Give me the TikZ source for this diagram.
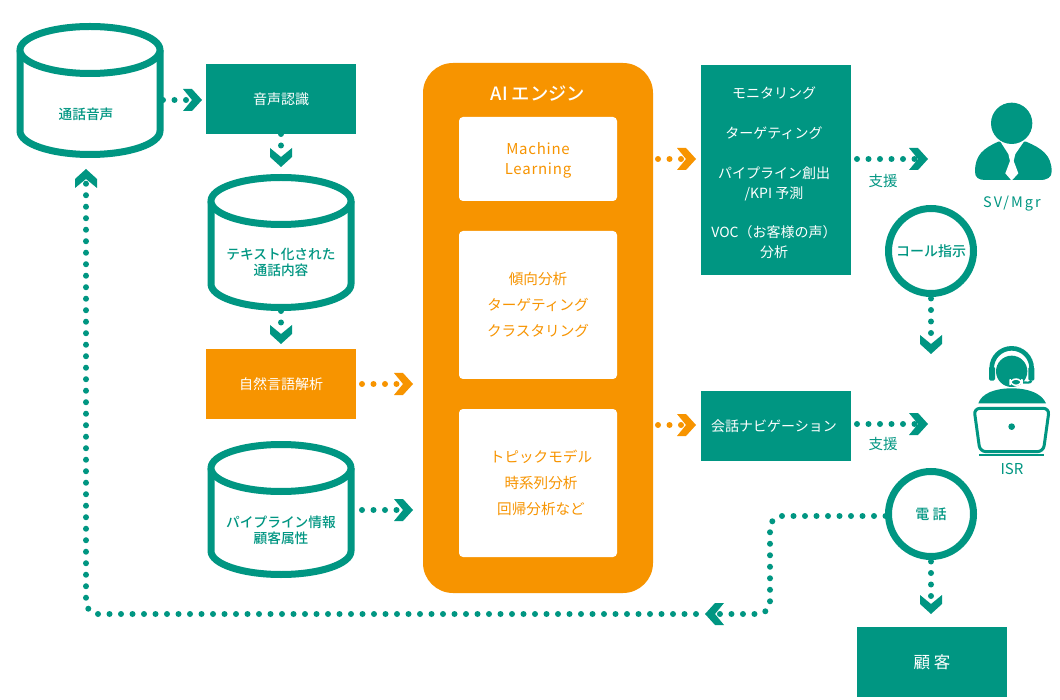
\documentclass[tikz,border=0pt]{standalone}
\usepackage{fontspec}
\setmainfont{Noto Sans CJK JP}
\newfontfamily\medf{Noto Sans CJK JP Medium}
\usetikzlibrary{arrows.meta,calc}
\definecolor{tealc}{HTML}{009682}
\definecolor{orangec}{HTML}{F79400}
\pgfdeclarearrow{
  name=Chev,
  setup code={
    \pgfarrowssettipend{0pt}
    \pgfarrowssetlineend{-12pt}
    \pgfarrowssetvisualbackend{-19pt}
    \pgfarrowssetbackend{-19pt}
  },
  drawing code={
    \pgfpathmoveto{\pgfpoint{0pt}{0pt}}
    \pgfpathlineto{\pgfpoint{-10pt}{11pt}}
    \pgfpathlineto{\pgfpoint{-19pt}{11pt}}
    \pgfpathlineto{\pgfpoint{-10pt}{0pt}}
    \pgfpathlineto{\pgfpoint{-19pt}{-11pt}}
    \pgfpathlineto{\pgfpoint{-10pt}{-11pt}}
    \pgfpathclose
    \pgfusepathqfill
  }
}
\tikzset{
  x=1pt,y=-1pt,
  every node/.style={inner sep=0pt,outer sep=0pt,align=center},
  box/.style={minimum width=150pt,minimum height=70pt,fill=#1,text=white,font=\fontsize{14}{20}\selectfont},
  dbframe/.style={minimum width=146pt,minimum height=137pt},
  dbline/.style={draw=tealc,line width=7pt,fill=white,line join=round},
  dblabel/.style={text=tealc,font=\medf\fontsize{13.7}{16}\selectfont},
  whitebox/.style={fill=white,rounded corners=4pt,minimum width=158pt},
  boxtext/.style={text=orangec,font=\fontsize{14.6}{26}\selectfont},
  ring/.style={circle,draw=tealc,line width=7pt,fill=white,minimum size=85pt,text=tealc,font=\medf\fontsize{14}{16}\selectfont},
  dotline/.style={draw=#1,line width=6pt,line cap=round,dash pattern=on 0pt off 11.5pt,-{Chev[color=#1]}},
  plain/.style={text=tealc,font=\fontsize{14.5}{16}\selectfont},
}
\newcommand{\dbcyl}[4]{% name, cx, top, bottom
  \node[dbframe] (#1) at (#2,{(#3+#4)/2}) {};
  \draw[dbline] (#2-70,#3+24) -- (#2-70,#4-24) arc[start angle=180,end angle=360,x radius=70,y radius=-23.5]
     -- (#2+70,#3+24);
  \draw[dbline] (#2,#3+24) ellipse[x radius=70,y radius=23.5];
}
\begin{document}
\begin{tikzpicture}
\useasboundingbox[fill=white] (0,0) rectangle (1060,700);

% databases
\dbcyl{dba}{90}{26}{155}
\node[dblabel] (dbat) at (86,114) {通話音声};
\dbcyl{dbb}{281}{177}{308}
\node[dblabel] (dbbt) at (281,262) {テキスト化された\\通話内容};
\dbcyl{dbc}{281}{444}{575}
\node[dblabel] (dbct) at (281,530) {パイプライン情報\\顧客属性};

% left boxes
\node[box=tealc] (asr) at (281,99) {音声認識};
\node[box=orangec] (nlp) at (281,384) {自然言語解析};

% engine
\node[fill=orangec,rounded corners=30pt,minimum width=230pt,minimum height=530pt] (engine) at (538,328) {};
\node[text=white,font=\medf\fontsize{18.3}{20}\selectfont] (enginet) at (538,94) {AI エンジン};
\node[whitebox,minimum height=84pt] (ml) at (538,159) {};
\node[text=orangec,font=\fontsize{15}{20}\selectfont\addfontfeature{LetterSpace=5}] (mlt) at (538,160) {Machine\\Learning};
\node[whitebox,minimum height=148pt] (trend) at (538,305) {};
\node[boxtext] (trendt) at (538,305) {傾向分析\\ターゲティング\\クラスタリング};
\node[whitebox,minimum height=148pt] (topic) at (538,483) {};
\node[boxtext] (topict) at (541,483) {トピックモデル\\時系列分析\\回帰分析など};

% right boxes
\node[box=tealc,minimum height=210pt] (out) at (776,170) {};
\node[text=white,font=\fontsize{14}{19.8}\selectfont] (outt) at (774,173) {モニタリング\\[20pt]ターゲティング\\[20pt]パイプライン創出\\/KPI 予測\\[20pt]VOC（お客様の声）\\分析};
\node[box=tealc] (nav) at (776,426) {};
\node[text=white,font=\fontsize{14}{20}\selectfont] (navt) at (774,426) {会話ナビゲーション};
\node[box=tealc,font=\fontsize{16.5}{18}\selectfont] (cust) at (932,662) {顧 客};

% rings
\node[ring] (call) at (931,251) {コール指示};
\node[ring] (tel) at (931,514) {電 話};

% connectors
\coordinate (c1) at (202,100);
\draw[dotline=tealc] (dba.east |- c1) -- (c1);
\draw[dotline=tealc,shorten >=7pt] (asr.south) -- (dbb.north);
\draw[dotline=tealc,shorten >=5pt] (dbb.south) -- (nlp.north);
\coordinate (c2) at (413,384);
\draw[dotline=orangec] ($(nlp.east)+(6,0)$) -- (c2);
\coordinate (c3) at (413,510);
\draw[dotline=tealc] ($(dbc.east |- c3)+(8,0)$) -- (c3);
\coordinate (c4) at (696,159);
\draw[dotline=orangec] ($(engine.east |- c4)+(5,0)$) -- (c4);
\coordinate (c5) at (696,425);
\draw[dotline=orangec] ($(engine.east |- c5)+(5,0)$) -- (c5);
\coordinate (c6) at (928,159);
\draw[dotline=tealc] ($(out.east |- c6)+(6,0)$) -- (c6);
\coordinate (c7) at (928,424);
\draw[dotline=tealc] ($(nav.east |- c7)+(6,0)$) -- (c7);
\coordinate (c8) at (931,354);
\draw[dotline=tealc] ($(call.south)+(0,5)$) -- (c8);
\coordinate (c9) at (931,614);
\draw[dotline=tealc] ($(tel.south)+(0,5)$) -- (c9);
\coordinate (m1) at (705,614);
\coordinate (m2) at (770,516);
\draw[dotline=tealc,rounded corners=12pt] ($(tel.west |- m2)+(-3,0)$) -- (m2) -- (m2 |- m1) -- (m1);
\coordinate (m0) at (696,614);
\coordinate (m3) at (86,614);
\draw[dotline=tealc,rounded corners=12pt,shorten >=10pt] (m0) -- (m3) -- (m3 |- dba.south);

\node[plain] (lab1) at (883,181) {支援};
\node[plain] (lab2) at (883,444) {支援};

% SV icon
\begin{scope}[xshift=960pt,yshift=-90pt,x=0.3333pt,y=-0.3333pt]
  \fill[tealc] (115,155) .. controls (70,175) and (45,195) .. (45,245)
     .. controls (45,262) and (55,270) .. (75,270) -- (240,270)
     .. controls (262,270) and (275,262) .. (275,245)
     .. controls (275,195) and (245,175) .. (198,155) -- cycle;
  \fill[white] (118,150) -- (145,192) -- (150,213) -- (136,250) -- (155,272) -- (175,250) -- (161,213) -- (166,192) -- (195,150) -- cycle;
  \fill[tealc] (155,100) circle[radius=62];
\end{scope}
\node[plain,font=\fontsize{14.5}{15}\selectfont\addfontfeature{LetterSpace=14}] (svt) at (1012,204) {SV/Mgr};

% ISR icon
\begin{scope}[xshift=960pt,yshift=-340pt,x=0.3333pt,y=-0.3333pt]
  \draw[tealc,line width=4.6pt] (95,85) arc[start angle=180,end angle=360,radius=60];
  \fill[tealc] (155,94) circle[radius=47];
  \fill[tealc,rounded corners=1.5pt] (87,80) rectangle (105,122);
  \fill[tealc,rounded corners=1.5pt] (205,80) rectangle (223,122);
  \draw[tealc,line width=2.2pt] (214,122) .. controls (212,130) and (200,128) .. (185,127);
  \fill[tealc,draw=white,line width=1.5pt,rounded corners=6pt] (150,117) rectangle (186,136);
  \fill[tealc] (55,190) .. controls (65,160) and (105,145) .. (155,145)
     .. controls (205,145) and (245,160) .. (258,190) -- cycle;
  \draw[tealc,line width=3pt,fill=white,rounded corners=6pt] (42,205) -- (268,205) -- (250,335) -- (60,335) -- cycle;
  \fill[tealc] (155,260) circle[radius=10];
  \fill[tealc] (58,343) rectangle (252,349);
\end{scope}
\node[plain,font=\fontsize{15}{15}\selectfont] (isrt) at (1012,469) {ISR};
\end{tikzpicture}
\end{document}
